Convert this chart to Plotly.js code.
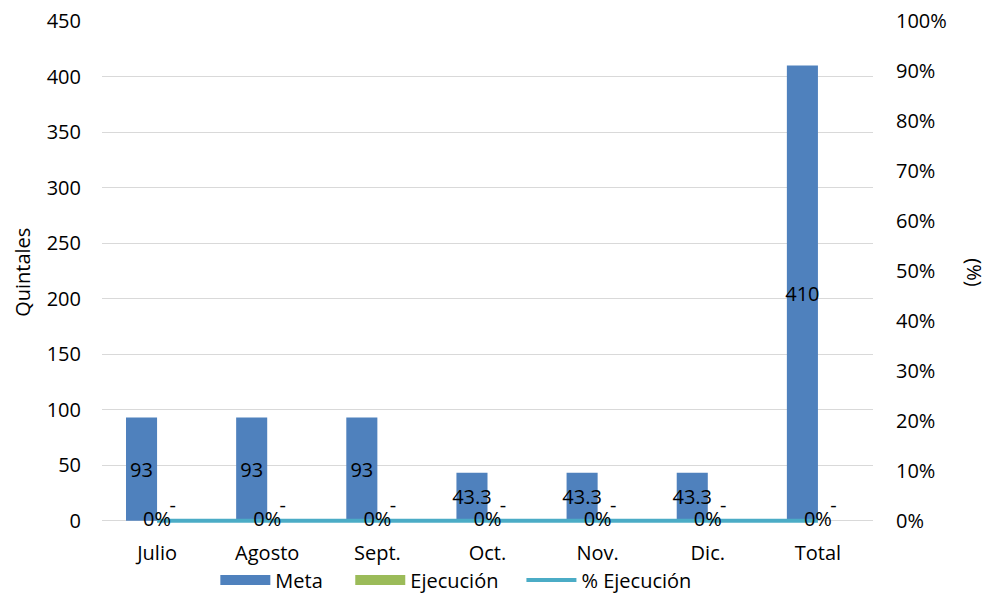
<!DOCTYPE html>
<html>
<head>
<meta charset="utf-8">
<script src="https://cdn.plot.ly/plotly-3.0.1.min.js"></script>
<style>html,body{margin:0;padding:0;background:#fff;}#chart{width:992px;height:594px;}</style>
</head>
<body>
<div id="chart"></div>
<script>
const categories = ["Julio", "Agosto", "Sept.", "Oct.", "Nov.", "Dic.", "Total"];
const meta = [93, 93, 93, 43.3, 43.3, 43.3, 410];
const metaLabels = ["93", "93", "93", "43.3", "43.3", "43.3", "410"];
const ejecucion = [0, 0, 0, 0, 0, 0, 0];
const ejecucionLabels = ["-", "-", "-", "-", "-", "-", "-"];
const pctEjecucion = [0, 0, 0, 0, 0, 0, 0];
const pctLabels = ["0%", "0%", "0%", "0%", "0%", "0%", "0%"];
const leftTicks = [0, 50, 100, 150, 200, 250, 300, 350, 400, 450];
const rightTicks = [0, 0.1, 0.2, 0.3, 0.4, 0.5, 0.6, 0.7, 0.8, 0.9, 1.0];

const FAM = "Open Sans, Noto Sans, sans-serif";
const FS = 20;
const font = {family: FAM, size: FS, color: "#000"};
const META_COLOR = "#4F81BD", EJEC_COLOR = "#9BBB59", PCT_COLOR = "#4BACC6";
const Y_PAD = 2; // small padding below zero so the 0% line is not clipped

const traces = [
  {type: "bar", name: "Meta", x: categories, y: meta, text: metaLabels,
   textposition: "inside", insidetextanchor: "middle", constraintext: "none", textangle: 0,
   textfont: {family: FAM, size: FS, color: "#000"}, insidetextfont: {family: FAM, size: FS, color: "#000"},
   marker: {color: META_COLOR, line: {width: 0}}, showlegend: false, cliponaxis: false},
  {type: "bar", name: "Ejecución", x: categories, y: ejecucion, text: ejecucionLabels,
   textposition: "outside", constraintext: "none", textangle: 0, cliponaxis: false,
   textfont: {family: FAM, size: FS, color: "#000"}, outsidetextfont: {family: FAM, size: FS, color: "#000"},
   marker: {color: EJEC_COLOR}, showlegend: false},
  {type: "scatter", mode: "lines+text", name: "% Ejecución", x: categories, y: pctEjecucion,
   yaxis: "y2", text: pctLabels, textposition: "middle center", cliponaxis: false,
   textfont: {family: FAM, size: FS, color: "#000"},
   line: {color: PCT_COLOR, width: 4}, showlegend: false},
  // legend entries
  {type: "scatter", mode: "lines", name: "Meta", x: [null], y: [null], line: {color: META_COLOR, width: 14}, legend: "legend"},
  {type: "scatter", mode: "lines", name: "Ejecución", x: [null], y: [null], line: {color: EJEC_COLOR, width: 14}, legend: "legend2"},
  {type: "scatter", mode: "lines", name: "% Ejecución", x: [null], y: [null], line: {color: PCT_COLOR, width: 4}, legend: "legend3"}
];

const legendBase = {orientation: "h", xanchor: "left", y: -0.1135, yanchor: "middle",
                    font: {family: FAM, size: FS}, itemwidth: 50, bgcolor: "rgba(0,0,0,0)"};

const layout = {
  width: 992, height: 594,
  margin: {l: 102, r: 119, t: 21, b: 71, autoexpand: false},
  paper_bgcolor: "#fff", plot_bgcolor: "#fff",
  font: font,
  barmode: "group", bargap: 0.436, bargroupgap: 0,
  showlegend: true,
  legend: Object.assign({}, legendBase, {x: 0.147}),
  legend2: Object.assign({}, legendBase, {x: 0.322}),
  legend3: Object.assign({}, legendBase, {x: 0.544}),
  xaxis: {type: "category", showgrid: false, zeroline: false, showline: false,
          ticks: "", ticklabelstandoff: 16, tickfont: {size: FS}, automargin: false},
  yaxis: {range: [-Y_PAD, 450], tickvals: leftTicks, showgrid: true, gridcolor: "#d9d9d9", gridwidth: 1,
          zeroline: false, showline: false, ticks: "",
          ticklabelstandoff: 20, tickfont: {size: FS}, automargin: false},
  yaxis2: {overlaying: "y", side: "right", range: [-Y_PAD / 450, 1], tickvals: rightTicks, tickformat: ".0%",
           showgrid: false, zeroline: false, showline: false, ticks: "", ticklabelstandoff: 22,
           tickfont: {size: FS}, automargin: false},
  annotations: [
    {text: "Quintales", xref: "paper", yref: "paper", x: -0.104, y: 0.5, xanchor: "center", yanchor: "middle",
     textangle: -90, showarrow: false, font: {family: FAM, size: FS, color: "#000"}},
    {text: "(%)", xref: "paper", yref: "paper", x: 1.132, y: 0.5, xanchor: "center", yanchor: "middle",
     textangle: 90, showarrow: false, font: {family: FAM, size: FS, color: "#000"}}
  ]
};

Plotly.newPlot("chart", traces, layout, {displayModeBar: false, staticPlot: true});
</script>
</body>
</html>
